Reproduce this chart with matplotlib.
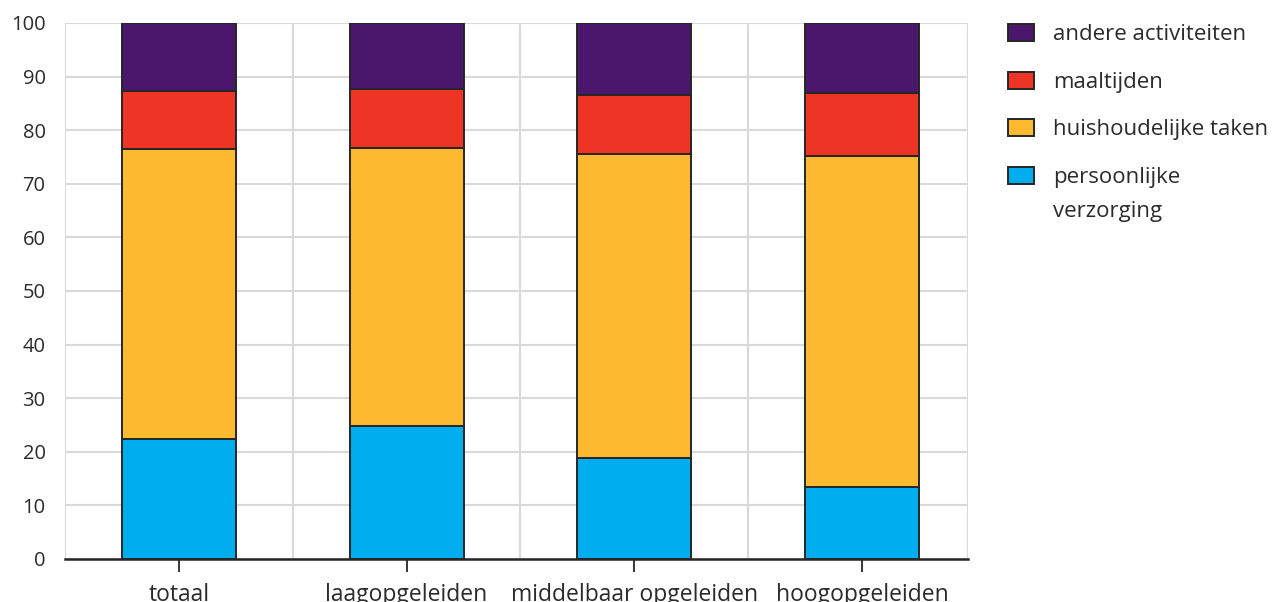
import matplotlib
matplotlib.use("Agg")
import matplotlib.pyplot as plt
import numpy as np

categories = ["totaal", "laagopgeleiden", "middelbaar opgeleiden", "hoogopgeleiden"]
persoonlijke_verzorging = [22.4, 24.8, 18.9, 13.5]
huishoudelijke_taken = [54.0, 51.8, 56.7, 61.7]
maaltijden = [11.0, 11.0, 11.0, 11.7]
andere_activiteiten = [12.6, 12.4, 13.4, 13.1]
yticks = [0, 10, 20, 30, 40, 50, 60, 70, 80, 90, 100]

series = [
    ("persoonlijke", persoonlijke_verzorging, "#00AEEF"),
    ("huishoudelijke taken", huishoudelijke_taken, "#FDBA30"),
    ("maaltijden", maaltijden, "#EE3424"),
    ("andere activiteiten", andere_activiteiten, "#4A176C"),
]
label_continuation = "verzorging"

plt.rcParams['font.family'] = ['Open Sans', 'DejaVu Sans']

fig = plt.figure(figsize=(12.79, 6.02), dpi=100)
ax = fig.add_axes([65/1279, 1-559/602, (968-65)/1279, (559-23)/602])

x = np.arange(len(categories))
bottom = np.zeros(len(categories))
handles = []
for label, vals, color in series:
    b = ax.bar(x, vals, bottom=bottom, width=0.5, color=color,
               edgecolor="#262626", linewidth=1.4, label=label, zorder=3)
    handles.append(b)
    bottom += np.array(vals)

ax.set_xlim(-0.5, 3.465)
ax.set_ylim(0, 100)
ax.set_yticks(yticks)
ax.set_yticklabels([str(v) for v in yticks], fontsize=14.5, color="#2b2b2b")
ax.set_xticks(x)
ax.set_xticklabels(categories, fontsize=16.5, color="#2b2b2b")

# grid
ax.yaxis.grid(True, color="#d9d9d9", linewidth=1.5, zorder=0)
for gx in [-0.5, 0.5, 1.5, 2.5, 3.465]:
    ax.axvline(gx, color="#d9d9d9", linewidth=1.5, zorder=0)

for s in ["top", "right", "left"]:
    ax.spines[s].set_visible(False)
ax.spines["bottom"].set_color("#262626")
ax.spines["bottom"].set_linewidth(1.8)
ax.spines["bottom"].set_zorder(4)

ax.tick_params(axis="y", length=0, pad=14)
ax.tick_params(axis="x", length=9, width=1.3, color="#262626", pad=8, direction="out")

leg = ax.legend(handles=handles[::-1], labels=[s[0] for s in series][::-1],
                loc="upper left", bbox_to_anchor=(1008/1279, 1-24/602),
                bbox_transform=fig.transFigure, frameon=False,
                fontsize=16, handlelength=1.17, handleheight=0.81,
                handletextpad=0.85, labelspacing=1.18, borderaxespad=0, borderpad=0)
for t in leg.get_texts():
    t.set_color("#2b2b2b")

# second line of the last legend label
fig.canvas.draw()
last = leg.get_texts()[-1]
bb = last.get_window_extent()
fig.text(bb.x0 / fig.bbox.width, (bb.y0 - 34) / fig.bbox.height, label_continuation,
         fontsize=16, color="#2b2b2b", ha="left", va="bottom")

fig.savefig("out.png", dpi=100)
